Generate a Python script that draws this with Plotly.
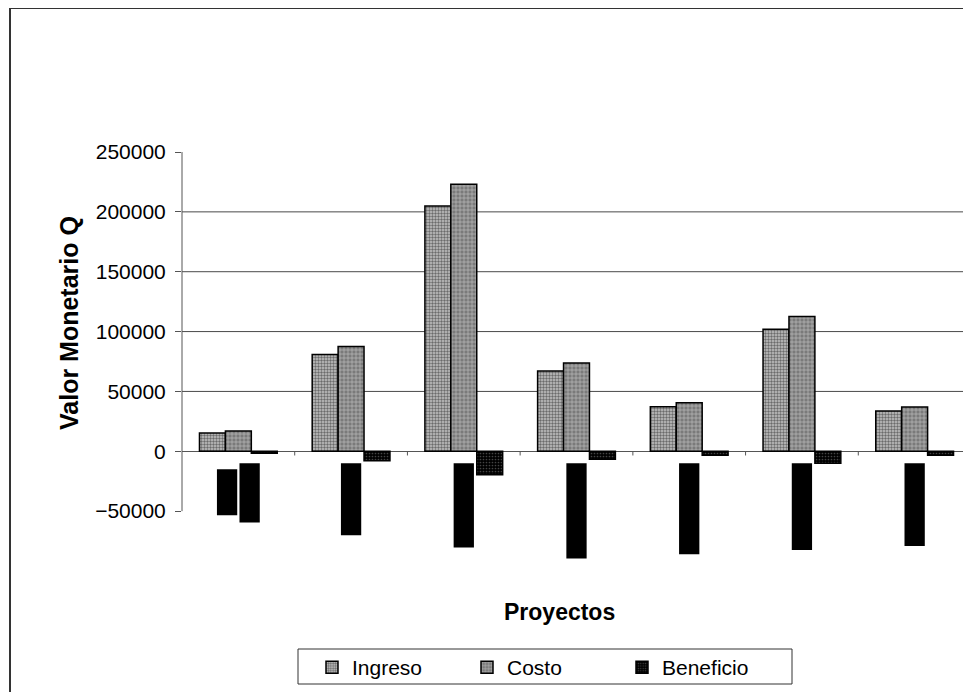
import plotly.graph_objects as go

# data
proyectos = [0, 1, 2, 3, 4, 5, 6]
ingreso = [15300, 80800, 204800, 67100, 37300, 102000, 33700]
costo = [17000, 87500, 223000, 73700, 40600, 112500, 37000]
beneficio = [-1700, -8000, -19500, -6600, -3300, -10000, -3300]

# black blocks hanging below the axis (unreadable category labels)
etiqueta_cat = [0, 0, 1, 2, 3, 4, 5, 6]
etiqueta_top = [-15000, -10000, -10000, -10000, -10000, -10000, -10000, -10000]
etiqueta_bottom = [-53500, -59400, -70200, -80300, -89500, -86100, -82500, -79200]

y_ticks = [-50000, 0, 50000, 100000, 150000, 200000, 250000]
grid_levels = [50000, 100000, 150000, 200000]

# the page body adds an 8px margin, so the figure is drawn 8px smaller
OFF = 8
W, H = 971 - OFF, 692 - OFF
L, R, T, B = 182 - OFF, 0, 152 - OFF, 121
y_min, y_max = -100000, 250000
FONT = "Arial, Liberation Sans, sans-serif"


def px_x(px):
    return (px - OFF - L) / (W - L - R)


def px_y(py):
    return (H - B - (py - OFF)) / (H - T - B)


def val_y(v):
    return (v - y_min) / (y_max - y_min)


bar_w = 0.23
fig = go.Figure()
series = [
    ("Ingreso", ingreso, -1.5 * bar_w, dict(shape=".", size=3, solidity=0.5, fgcolor="#111111", bgcolor="#c4c4c4")),
    ("Costo", costo, -0.5 * bar_w, dict(shape="+", size=4, solidity=0.3, fgcolor="white", bgcolor="#7a7a7a")),
    ("Beneficio", beneficio, 0.5 * bar_w, dict(shape=".", size=3, solidity=0.25, fgcolor="#888888", bgcolor="black")),
]
for name, vals, off, pat in series:
    fig.add_trace(go.Bar(
        x=proyectos, y=vals, name=name, width=bar_w, offset=off,
        marker=dict(color=pat["bgcolor"], line=dict(color="black", width=1.5), pattern=pat),
    ))

# offsets for the label blocks: split categories that have two blocks
lab_w = 0.18
offsets = []
for i, c in enumerate(etiqueta_cat):
    n = etiqueta_cat.count(c)
    k = etiqueta_cat[:i].count(c)
    centre = 0 if n == 1 else (k - (n - 1) / 2) * 0.2
    offsets.append(centre - lab_w / 2)

fig.add_trace(go.Bar(
    x=etiqueta_cat, base=etiqueta_top,
    y=[b - t for b, t in zip(etiqueta_bottom, etiqueta_top)],
    width=lab_w, offset=offsets, marker=dict(color="black", line=dict(width=0)),
    showlegend=False, hoverinfo="skip",
))

shapes = []
for g in grid_levels:
    shapes.append(dict(type="line", xref="paper", yref="y", x0=0, x1=0.99, y0=g, y1=g,
                       line=dict(color="#4a4a4a", width=1), layer="below"))
# category tick marks on the zero line
for i in proyectos[:-1]:
    shapes.append(dict(type="line", xref="x", yref="y", x0=i + 0.5, x1=i + 0.5, y0=0, y1=-3500,
                       line=dict(color="#555", width=1)))
# value axis line only across the ticked range
shapes.append(dict(type="line", xref="paper", yref="paper", x0=0, x1=0,
                   y0=val_y(y_ticks[0]), y1=val_y(y_ticks[-1]), line=dict(color="#555", width=1)))
# chart area border
shapes.append(dict(type="rect", xref="paper", yref="paper", x0=px_x(10), x1=px_x(1000),
                   y0=px_y(720), y1=px_y(8), line=dict(color="#333", width=2)))
# legend box
shapes.append(dict(type="rect", xref="paper", yref="paper", x0=px_x(298), x1=px_x(792),
                   y0=px_y(684), y1=px_y(649), line=dict(color="#333", width=1)))

fig.update_layout(
    width=W, height=H,
    margin=dict(l=L, r=R, t=T, b=B),
    paper_bgcolor="white", plot_bgcolor="white",
    barmode="overlay",
    font=dict(family=FONT, size=20, color="black"),
    xaxis=dict(range=[-0.5, 6.5], showticklabels=False, showgrid=False, zeroline=False, showline=False),
    yaxis=dict(range=[y_min, y_max], tickvals=y_ticks, tickformat="d", ticks="outside", ticklen=6,
               tickcolor="#555", showgrid=False, zeroline=True, zerolinecolor="#555", zerolinewidth=1,
               showline=False, tickfont=dict(size=21), ticklabelstandoff=5),
    shapes=shapes,
    showlegend=True,
    legend=dict(orientation="h", x=px_x(312), xanchor="left", y=px_y(647), yanchor="top",
                borderwidth=0, bgcolor="rgba(0,0,0,0)", font=dict(size=21),
                entrywidth=110, itemwidth=30),
    annotations=[
        dict(text="<b>Valor Monetario Q</b>", xref="paper", yref="paper", x=px_x(69), y=px_y(323),
             xanchor="center", yanchor="middle", textangle=-90, showarrow=False, font=dict(size=25)),
        dict(text="<b>Proyectos</b>", xref="paper", yref="paper", x=px_x(559), y=px_y(612),
             xanchor="center", yanchor="middle", showarrow=False, font=dict(size=23)),
    ],
)

fig.write_html("out.html")
